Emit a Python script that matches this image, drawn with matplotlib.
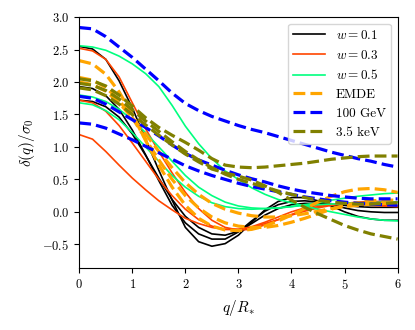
import numpy as np
import matplotlib
matplotlib.use("Agg")
import matplotlib.pyplot as plt

plt.rcParams["font.family"] = "serif"
plt.rcParams["font.serif"] = ["cmr10"]
plt.rcParams["mathtext.fontset"] = "cm"
plt.rcParams["axes.formatter.use_mathtext"] = True

# q / R_* grid (step 0.25)
q = np.linspace(0, 6, 25)

# w = 0.1 (black)
w01 = [
    [2.55, 2.51, 2.35, 2.02, 1.60, 1.12, 0.64, 0.18, -0.24, -0.46, -0.53, -0.49, -0.36,
     -0.16, 0.03, 0.16, 0.22, 0.22, 0.17, 0.09, 0.00, -0.07, -0.11, -0.13, -0.13],
    [1.93, 1.90, 1.79, 1.58, 1.26, 0.88, 0.48, 0.10, -0.17, -0.34, -0.42, -0.42, -0.31,
     -0.14, 0.01, 0.11, 0.16, 0.17, 0.15, 0.11, 0.06, 0.02, 0.00, -0.01, -0.01],
    [1.72, 1.70, 1.62, 1.46, 1.20, 0.87, 0.52, 0.19, -0.07, -0.24, -0.34, -0.36, -0.30,
     -0.18, -0.05, 0.05, 0.11, 0.13, 0.13, 0.12, 0.10, 0.08, 0.07, 0.07, 0.07],
]
# w = 0.3 (red)
w03 = [
    [2.52, 2.48, 2.35, 2.08, 1.68, 1.28, 0.93, 0.60, 0.30, 0.05, -0.13, -0.24, -0.28,
     -0.27, -0.20, -0.12, -0.04, 0.03, 0.08, 0.11, 0.12, 0.12, 0.11, 0.10, 0.09],
    [1.72, 1.68, 1.55, 1.33, 1.06, 0.78, 0.50, 0.25, 0.04, -0.12, -0.22, -0.27, -0.27,
     -0.23, -0.16, -0.08, 0.00, 0.06, 0.10, 0.12, 0.12, 0.11, 0.10, 0.09, 0.08],
    [1.19, 1.12, 0.93, 0.72, 0.52, 0.34, 0.17, 0.03, -0.10, -0.18, -0.24, -0.27, -0.27,
     -0.24, -0.18, -0.12, -0.05, 0.01, 0.06, 0.10, 0.13, 0.15, 0.16, 0.16, 0.15],
]
# w = 0.5 (green)
w05 = [
    [2.56, 2.54, 2.49, 2.40, 2.28, 2.13, 1.93, 1.64, 1.32, 1.05, 0.82, 0.63, 0.50,
     0.37, 0.27, 0.19, 0.14, 0.09, 0.04, 0.00, -0.04, -0.08, -0.11, -0.13, -0.14],
    [1.80, 1.77, 1.70, 1.58, 1.42, 1.22, 1.00, 0.78, 0.56, 0.38, 0.25, 0.15, 0.09,
     0.06, 0.05, 0.06, 0.08, 0.11, 0.14, 0.18, 0.21, 0.24, 0.26, 0.28, 0.29],
    [1.68, 1.65, 1.56, 1.42, 1.22, 1.00, 0.78, 0.56, 0.38, 0.24, 0.14, 0.08, 0.05,
     0.04, 0.05, 0.06, 0.08, 0.10, 0.11, 0.12, 0.13, 0.14, 0.14, 0.15, 0.15],
]
# EMDE (orange)
emde = [
    [2.33, 2.28, 2.12, 1.85, 1.50, 1.10, 0.72, 0.38, 0.10, -0.10, -0.22, -0.28, -0.29,
     -0.27, -0.22, -0.14, -0.05, 0.05, 0.15, 0.24, 0.31, 0.35, 0.36, 0.34, 0.30],
    [2.07, 2.03, 1.92, 1.72, 1.45, 1.12, 0.80, 0.50, 0.25, 0.06, -0.08, -0.17, -0.22,
     -0.24, -0.24, -0.21, -0.16, -0.10, -0.03, 0.04, 0.10, 0.14, 0.17, 0.18, 0.18],
    [2.00, 1.96, 1.86, 1.68, 1.45, 1.20, 0.93, 0.68, 0.45, 0.27, 0.13, 0.04, -0.02,
     -0.06, -0.08, -0.08, -0.06, -0.03, 0.01, 0.05, 0.08, 0.10, 0.12, 0.13, 0.13],
]
# 100 GeV (blue)
gev100 = [
    [2.84, 2.82, 2.70, 2.54, 2.38, 2.20, 2.02, 1.83, 1.67, 1.56, 1.47, 1.40, 1.33,
     1.27, 1.22, 1.16, 1.10, 1.04, 0.98, 0.92, 0.87, 0.82, 0.78, 0.73, 0.69],
    [1.78, 1.75, 1.66, 1.54, 1.42, 1.30, 1.17, 1.03, 0.90, 0.80, 0.72, 0.64, 0.57,
     0.51, 0.46, 0.40, 0.35, 0.31, 0.28, 0.25, 0.23, 0.21, 0.20, 0.20, 0.20],
    [1.37, 1.35, 1.29, 1.20, 1.11, 1.01, 0.91, 0.81, 0.71, 0.63, 0.56, 0.50, 0.44,
     0.39, 0.35, 0.31, 0.27, 0.23, 0.20, 0.17, 0.15, 0.13, 0.12, 0.11, 0.10],
]
# 3.5 keV (olive)
kev35 = [
    [2.05, 2.02, 1.94, 1.80, 1.63, 1.45, 1.30, 1.18, 1.07, 0.95, 0.82, 0.72, 0.69,
     0.68, 0.69, 0.71, 0.73, 0.75, 0.78, 0.81, 0.83, 0.85, 0.86, 0.86, 0.86],
    [1.98, 1.95, 1.87, 1.74, 1.57, 1.40, 1.24, 1.08, 0.93, 0.80, 0.68, 0.58, 0.50,
     0.44, 0.38, 0.32, 0.27, 0.22, 0.18, 0.15, 0.13, 0.12, 0.12, 0.13, 0.14],
    [1.91, 1.88, 1.79, 1.66, 1.50, 1.34, 1.18, 1.03, 0.89, 0.77, 0.66, 0.60, 0.55,
     0.49, 0.40, 0.30, 0.18, 0.07, -0.03, -0.12, -0.21, -0.28, -0.34, -0.38, -0.42],
]

fig, ax = plt.subplots(figsize=(4.15, 3.3), dpi=100)
fig.subplots_adjust(left=0.191, right=0.958, bottom=0.187, top=0.948)

groups = [
    (w01, "k", "-", r"$w = 0.1$"),
    (w03, "orangered", "-", r"$w = 0.3$"),
    (w05, "springgreen", "-", r"$w = 0.5$"),
    (emde, "orange", "--", "EMDE"),
    (gev100, "blue", "--", "100 GeV"),
    (kev35, "olive", "--", "3.5 keV"),
]
for curves, col, ls, lab in groups:
    lw = 1.2 if ls == "-" else 2.3
    for i, y in enumerate(curves):
        ax.plot(q, y, color=col, ls=ls, lw=lw, label=lab if i == 0 else None)

ax.set_xlim(0, 6)
ax.set_ylim(-0.87, 3.0)
ax.set_yticks([-0.5, 0.0, 0.5, 1.0, 1.5, 2.0, 2.5, 3.0])
ax.tick_params(labelsize=9)
ax.set_xlabel(r"$q/R_{*}$", fontsize=11)
ax.set_ylabel(r"$\delta(q)/\sigma_0$", fontsize=11)
ax.legend(loc="upper right", fontsize=9.5, handlelength=2.4)

fig.savefig("out.png", dpi=100)
